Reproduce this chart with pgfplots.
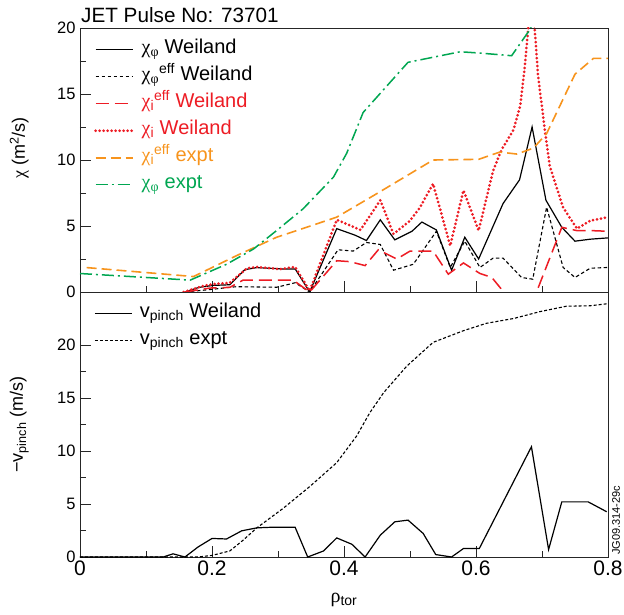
\documentclass[border=0pt]{standalone}
\usepackage{fontspec}
\setmainfont{Liberation Sans}
\newfontfamily\grk{Liberation Serif}
\usepackage{pgfplots}
\pgfplotsset{compat=1.18}
\definecolor{jred}{RGB}{237,28,36}
\definecolor{jorange}{RGB}{247,148,29}
\definecolor{jgreen}{RGB}{0,166,81}
\pgfplotsset{
  jetaxis/.style={
    scale only axis, width=528pt,
    xmin=0, xmax=0.8,
    xtick={0,0.2,0.4,0.6,0.8},
    tick align=inside, xtick pos=bottom, ytick pos=left,
    major tick length=11pt, minor tick length=6pt,
    minor x tick num=1, minor y tick num=1,
    axis line style={line width=0.8pt, black!85},
    every tick/.style={line width=0.8pt, black!85},
    /pgf/number format/assume math mode=true,
    yticklabel style={font=\fontsize{16.5}{18}\selectfont, xshift=-1pt},
    xticklabel style={font=\fontsize{21}{24}\selectfont},
    clip mode=individual,
    legend image code/.code={\draw[##1] (0pt,0pt) -- (37pt,0pt);},
    legend style={at={(axis description cs:0,1)}, anchor=north west,
      draw=none, fill=none, font=\fontsize{20}{24}\selectfont,
      inner xsep=0pt, inner ysep=0pt, xshift=14pt, yshift=-9pt,
      row sep=2pt, column sep=5pt, cells={anchor=west},
      nodes={inner sep=2.5pt, text height=14pt, text depth=6pt}},
    ylabel style={font=\fontsize{18}{22}\selectfont, at={(axis description cs:-0.115,0.5)}, anchor=center},
  },
  bw/.style={black, line width=1.2pt},
  bwd/.style={black, line width=1.1pt, dash pattern=on 3.5pt off 2.5pt},
  rd/.style={jred, line width=1.5pt, dash pattern=on 13pt off 6pt},
  rdot/.style={jred, line width=3pt, line cap=round, dash pattern=on 0pt off 4pt},
  od/.style={jorange, line width=1.6pt, dash pattern=on 10pt off 5pt},
  gdd/.style={jgreen, line width=1.5pt, dash pattern=on 12pt off 4pt on 2pt off 4pt},
}
\begin{document}
\begin{tikzpicture}
\path[use as bounding box] (-80pt,-57pt) rectangle (544pt,557pt);
% ---------- top panel ----------
\begin{axis}[jetaxis, name=top, at={(0,265pt)}, anchor=south west, height=264pt,
  ymin=0, ymax=20, ytick={0,5,10,15,20}, xticklabels={{},{},{},{},{}},
  ylabel={{\grk χ} (m\textsuperscript{2}/s)},
  ylabel style={at={(axis description cs:-0.115,0.545)}}]
\addplot[bw] coordinates {(0.159,0) (0.18,0.35) (0.202,0.5) (0.227,0.55) (0.25,1.7) (0.268,1.85) (0.305,1.75) (0.326,1.75) (0.348,0) (0.389,4.8) (0.417,4.3) (0.434,3.9) (0.455,5.47) (0.477,3.95) (0.503,4.6) (0.518,5.3) (0.54,4.7) (0.563,1.65) (0.583,4.15) (0.604,2.5) (0.641,6.7) (0.666,8.5) (0.685,12.5) (0.706,6.95) (0.73,4.9) (0.75,3.85) (0.773,4.0) (0.8,4.1)};
\addlegendentry{{\grk χ}\textsubscript{\grk φ} Weiland}
\addplot[bwd] coordinates {(0.159,0) (0.2,0.2) (0.222,0.33) (0.237,0.4) (0.298,0.36) (0.326,0.7) (0.348,0) (0.391,3.2) (0.414,3.1) (0.434,3.75) (0.455,3.6) (0.475,1.65) (0.505,2.1) (0.54,4.6) (0.561,1.86) (0.583,3.85) (0.606,1.86) (0.626,2.57) (0.641,2.57) (0.669,1.1) (0.686,0.97) (0.707,6.43) (0.732,1.86) (0.75,1.1) (0.773,1.8) (0.8,1.86)};
\addlegendentry{{\grk χ}\textsubscript{\grk φ}\textsuperscript{eff} Weiland}
\addplot[rd] coordinates {(0.159,0) (0.197,0.3) (0.227,0.35) (0.247,0.9) (0.323,0.9) (0.348,0) (0.389,2.37) (0.409,2.3) (0.432,2.0) (0.452,3.2) (0.48,2.5) (0.5,3.1) (0.535,3.1) (0.558,1.35) (0.581,2.2) (0.606,1.4) (0.624,1.1) (0.66,-1.1) (0.68,-1.5) (0.73,4.9) (0.753,4.65) (0.775,4.65) (0.8,4.6)};
\addlegendentry{\textcolor{jred}{{\grk χ}\textsubscript{i}\textsuperscript{eff} Weiland}}
\addplot[rdot] coordinates {(0.157,0) (0.187,0.46) (0.202,0.6) (0.227,0.7) (0.253,1.8) (0.268,1.9) (0.303,1.73) (0.326,1.9) (0.348,0.08) (0.389,5.47) (0.425,4.7) (0.455,6.95) (0.475,4.4) (0.5,5.4) (0.515,6.4) (0.535,8.2) (0.561,3.5) (0.581,7.7) (0.604,4.65) (0.626,9.2) (0.639,10.8) (0.657,12.3) (0.667,14.1) (0.674,17.1) (0.679,19.9) (0.684,24) (0.689,19.9) (0.694,16.4) (0.705,12.0) (0.712,9.5) (0.732,6.4) (0.753,4.8) (0.773,5.4) (0.8,5.67)};
\addlegendentry{\textcolor{jred}{{\grk χ}\textsubscript{i} Weiland}}
\addplot[od] coordinates {(0.01,1.85) (0.172,1.17) (0.237,2.75) (0.298,4.15) (0.343,4.9) (0.389,5.67) (0.45,7.46) (0.535,10.0) (0.604,10.05) (0.636,10.6) (0.662,10.45) (0.687,10.9) (0.707,12.0) (0.75,16.5) (0.778,17.7) (0.8,17.7)};
\addlegendentry{\textcolor{jorange}{{\grk χ}\textsubscript{i}\textsuperscript{eff} expt}}
\addplot[gdd] coordinates {(0,1.4) (0.167,0.9) (0.222,2.1) (0.263,3.26) (0.298,4.66) (0.338,6.3) (0.384,8.7) (0.404,10.5) (0.429,13.6) (0.497,17.4) (0.576,18.2) (0.606,18.1) (0.654,17.9) (0.682,19.9) (0.69,21)};
\addlegendentry{\textcolor{jgreen}{{\grk χ}\textsubscript{\grk φ} expt}}
\end{axis}
% ---------- bottom panel ----------
\begin{axis}[jetaxis, name=bot, at={(0,0)}, anchor=south west, height=265pt,
  ymin=0, ymax=25, ytick={0,5,10,15,20},
  xlabel={{\grk ρ}\textsubscript{tor}},
  xlabel style={font=\fontsize{20}{24}\selectfont, at={(axis description cs:0.5,0)}, anchor=center, yshift=-43pt},
  ylabel={−v\textsubscript{pinch} (m/s)}]
\addplot[bw] coordinates {(0,0) (0.126,0) (0.141,0.3) (0.159,0) (0.179,0.95) (0.2,1.75) (0.222,1.7) (0.245,2.47) (0.268,2.75) (0.288,2.8) (0.326,2.8) (0.345,0) (0.369,0.57) (0.389,1.8) (0.412,1.2) (0.432,0) (0.455,2.06) (0.477,3.32) (0.497,3.48) (0.52,2.22) (0.539,0.23) (0.563,0) (0.581,0.8) (0.605,0.8) (0.684,10.4) (0.71,0.7) (0.73,5.2) (0.77,5.2) (0.798,4.27)};
\addlegendentry{v\textsubscript{pinch} Weiland}
\addplot[black, line width=1.1pt, dash pattern=on 3pt off 2pt] coordinates {(0,0) (0.179,0) (0.2,0.15) (0.227,0.57) (0.247,1.58) (0.268,2.75) (0.308,4.6) (0.348,6.64) (0.389,8.9) (0.419,11.4) (0.439,13.6) (0.46,15.5) (0.495,18.0) (0.535,20.25) (0.581,21.35) (0.616,22.05) (0.657,22.5) (0.697,23.15) (0.737,23.66) (0.773,23.7) (0.8,23.9)};
\addlegendentry{v\textsubscript{pinch} expt}
\end{axis}
\node[anchor=base west, inner sep=0pt, font=\fontsize{20.7}{24}\selectfont] at ([xshift=1pt,yshift=5pt]top.north west) {JET Pulse No: 73701};
\node[rotate=90, anchor=north west, inner sep=0pt, font=\fontsize{11}{13}\selectfont] at ([xshift=4pt,yshift=2pt]bot.south east) {JG09.314-29c};
\end{tikzpicture}
\end{document}
